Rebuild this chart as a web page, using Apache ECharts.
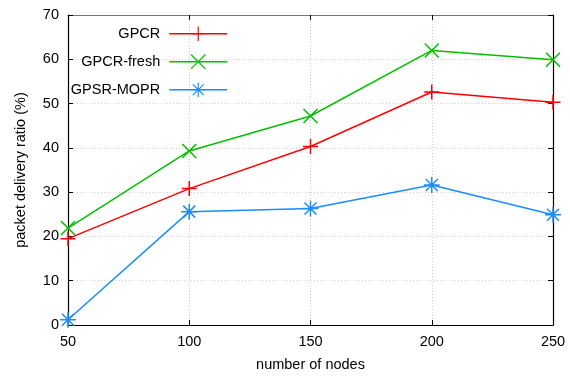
<!DOCTYPE html>
<html><head><meta charset="utf-8">
<script src="https://cdn.jsdelivr.net/npm/echarts@6/dist/echarts.min.js"></script>
<style>html,body{margin:0;padding:0;background:#fff}#c{width:570px;height:377px}</style>
</head><body><div id="c"></div>
<script>
const nodes = [50, 100, 150, 200, 250];
const gpcr = [19.5, 30.8, 40.3, 52.6, 50.3];
const gpcrFresh = [21.9, 39.3, 47.2, 62.0, 59.9];
const gpsrMopr = [1.2, 25.6, 26.3, 31.6, 24.9];
const seriesNames = ['GPCR', 'GPCR-fresh', 'GPSR-MOPR'];
const xTicks = [50, 100, 150, 200, 250];
const yTicks = [0, 10, 20, 30, 40, 50, 60, 70];

const colors = ['#ff0000', '#00c000', '#1a8cff'];
const symbols = [
  'path://M0,-1 L0,1 M-1,0 L1,0',
  'path://M-1,-1 L1,1 M-1,1 L1,-1',
  'path://M0,-1 L0,1 M-1,0 L1,0 M-0.75,-0.75 L0.75,0.75 M-0.75,0.75 L0.75,-0.75'
];
const sizes = [15, 14, 16];
const values = [gpcr, gpcrFresh, gpsrMopr];
const font = 'Liberation Sans';

const chart = echarts.init(document.getElementById('c'));
const mk = (i) => ({
  name: seriesNames[i], type: 'line',
  data: nodes.map((n, k) => [n, values[i][k]]),
  symbol: symbols[i], symbolSize: sizes[i], showSymbol: true,
  lineStyle: { color: colors[i], width: 1.5 },
  itemStyle: { color: 'none', borderColor: colors[i], borderWidth: 1.5 },
  emphasis: { disabled: true }, animation: false, z: 3 + i
});
const legend = (i, top) => ({
  data: [seriesNames[i]], right: 337, top: top, orient: 'vertical',
  itemWidth: 58, itemHeight: 18, align: 'right',
  itemStyle: { borderWidth: 1.2 },
  lineStyle: { width: 1.5 },
  textStyle: { fontFamily: font, fontSize: 14.5, color: '#000', padding: [0, 4, 0, 0] },
  selectedMode: false
});
const axisLabelStyle = { fontFamily: font, fontSize: 14.5, color: '#000' };
chart.setOption({
  animation: false,
  grid: { left: 68, right: 17, top: 15, bottom: 50 },
  legend: [legend(0, 19), legend(1, 47), legend(2, 75)],
  xAxis: [{
    type: 'value', min: 50, max: 250, interval: 50,
    name: 'number of nodes', nameLocation: 'middle', nameGap: 32,
    nameTextStyle: axisLabelStyle,
    axisLine: { onZero: false, lineStyle: { color: '#000', width: 1.2 } },
    axisTick: { inside: true, length: 5, lineStyle: { color: '#000' } },
    axisLabel: Object.assign({ margin: 9, formatter: (v) => xTicks.includes(v) ? String(v) : '' }, axisLabelStyle),
    splitLine: { show: true, lineStyle: { color: '#d0d0d0', type: [1, 2], width: 1 } }
  }, {
    type: 'value', min: 50, max: 250, interval: 50, position: 'top',
    axisLine: { onZero: false, lineStyle: { color: '#777', width: 1.2 } },
    axisTick: { inside: true, length: 5, lineStyle: { color: '#000' } },
    axisLabel: { show: false }, splitLine: { show: false }
  }],
  yAxis: [{
    type: 'value', min: 0, max: 70, interval: 10,
    name: 'packet delivery ratio (%)', nameLocation: 'middle', nameGap: 40,
    nameTextStyle: axisLabelStyle,
    axisLine: { show: true, onZero: false, lineStyle: { color: '#000', width: 1.2 } },
    axisTick: { show: true, inside: true, length: 5, lineStyle: { color: '#000' } },
    axisLabel: Object.assign({ margin: 9, formatter: (v) => yTicks.includes(v) ? String(v) : '' }, axisLabelStyle),
    splitLine: { show: true, lineStyle: { color: '#d0d0d0', type: [1, 2], width: 1 } }
  }, {
    type: 'value', min: 0, max: 70, interval: 10, position: 'right',
    axisLine: { show: true, onZero: false, lineStyle: { color: '#000', width: 1.2 } },
    axisTick: { show: true, inside: true, length: 5, lineStyle: { color: '#000' } },
    axisLabel: { show: false }, splitLine: { show: false }
  }],
  series: [mk(0), mk(1), mk(2)]
});
</script></body></html>
